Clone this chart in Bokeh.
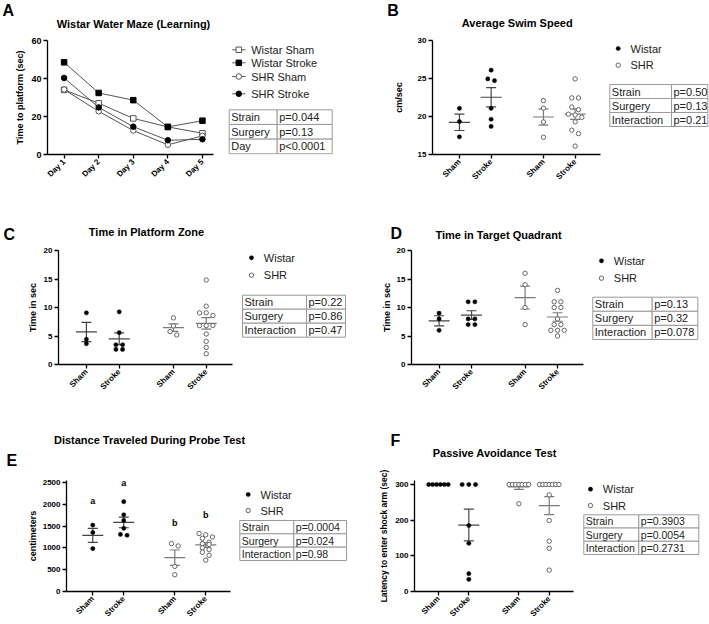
import numpy as np
from bokeh.plotting import figure
from bokeh.models import Range1d, FixedTicker
from bokeh.layouts import row, column
from bokeh.core.properties import value
from bokeh.embed import file_html
from bokeh.resources import INLINE

FONT = "Liberation Sans"

# ---------------- data ----------------
DAYS = [1, 2, 3, 4, 5]
DAY_LABELS = ["Day 1", "Day 2", "Day 3", "Day 4", "Day 5"]
A_WISTAR_SHAM = [34.0, 27.0, 19.0, 14.5, 11.2]
A_WISTAR_STROKE = [48.5, 32.4, 28.6, 14.5, 17.8]
A_SHR_SHAM = [34.2, 22.7, 12.6, 5.1, 9.8]
A_SHR_STROKE = [40.3, 24.8, 14.65, 7.5, 8.0]
A_SERIES_NAMES = ["Wistar Sham", "Wistar Stroke", "SHR Sham", "SHR Stroke"]

GROUP_POS = [1, 2, 3.65, 4.65]
GROUP_LABELS = ["Sham", "Stroke", "Sham", "Stroke"]
GROUP_STRAIN = ["Wistar", "Wistar", "SHR", "SHR"]

B_WISTAR_SHAM = [21.07, 19.33, 17.32]
B_WISTAR_STROKE = [26.1, 24.95, 24.72, 21.07, 19.64, 18.7]
B_SHR_SHAM = [22.09, 21.1, 19.28, 17.27]
B_SHR_STROKE = [24.95, 22.45, 22.45, 21.25, 20.9, 20.3, 20.2, 19.9, 19.3, 18.2, 17.75, 16.1]

C_WISTAR_SHAM = [9.06, 4.41, 3.65]
C_WISTAR_STROKE = [9.24, 5.59, 3.47, 3.47, 2.65, 2.65]
C_SHR_SHAM = [8.18, 6.77, 5.77, 5.18]
C_SHR_STROKE = [14.82, 10.23, 9.06, 9.06, 8.59, 6.83, 6.83, 6.83, 5.36, 4.06, 3.0, 1.89]

D_WISTAR_SHAM = [9, 8, 6]
D_WISTAR_STROKE = [11, 11, 8, 8, 7, 7]
D_SHR_SHAM = [16, 14, 10, 7]
D_SHR_STROKE = [13, 11, 11, 10, 10, 8, 7, 7, 6, 6, 6, 5]

E_WISTAR_SHAM = [1523, 1353, 984]
E_WISTAR_STROKE = [2060, 1760, 1630, 1450, 1310, 1290]
E_SHR_SHAM = [1099, 1045, 576, 384]
E_SHR_STROKE = [1330, 1300, 1250, 1220, 1130, 1100, 1080, 1000, 960, 900, 830, 720]
E_LETTERS = ["a", "a", "b", "b"]
E_LETTER_Y = [2084, 2500, 1576, 1746]

F_WISTAR_SHAM = [300, 300, 300, 300, 300, 300]
F_WISTAR_STROKE = [300, 300, 300, 185, 135, 50, 34]
F_SHR_SHAM = [300, 300, 300, 300, 300, 300, 300, 246]
F_SHR_STROKE = [300, 300, 300, 300, 300, 300, 300, 271, 199, 141, 121, 60]

A_STATS = [("Strain", "p=0.044"), ("Surgery", "p=0.13"), ("Day", "p<0.0001")]
B_STATS = [("Strain", "p=0.50"), ("Surgery", "p=0.13"), ("Interaction", "p=0.21")]
C_STATS = [("Strain", "p=0.22"), ("Surgery", "p=0.86"), ("Interaction", "p=0.47")]
D_STATS = [("Strain", "p=0.13"), ("Surgery", "p=0.32"), ("Interaction", "p=0.078")]
E_STATS = [("Strain", "p=0.0004"), ("Surgery", "p=0.024"), ("Interaction", "p=0.98")]
F_STATS = [("Strain", "p=0.3903"), ("Surgery", "p=0.0054"), ("Interaction", "p=0.2731")]

# ---------------- layout (page pixels, origin at top-left) ----------------
TOTAL_W = 709
ROWS = [
    dict(header=(0, 34), band=(34, 200), frame=(40, 154)),
    dict(header=(200, 244), band=(244, 400), frame=(250, 364)),
    dict(header=(400, 469), band=(469, 624), frame=(480, 591)),
]

PANELS = {
    "A": dict(row=0, fig=(0, 222), frame=(47, 166), xr=(0.52, 5.32), yr=(0, 60),
              yticks=[0, 20, 40, 60], ylabel="Time to platform (sec)", ystand=3, lab_fs="9px",
              letter=(2, 10), title="Wistar Water Maze (Learning)", tpos=(133, 23.3)),
    "B": dict(row=0, fig=(345, 258), frame=(432, 168), xr=(0.15, 5.45), yr=(15, 30),
              yticks=[15, 20, 25, 30], ylabel="cm/sec", ystand=11, lab_fs="9px",
              letter=(386.7, 9.5), title="Average Swim Speed", tpos=(516.7, 22.3)),
    "C": dict(row=1, fig=(0, 236), frame=(58, 174), xr=(0.15, 5.45), yr=(0, 20),
              yticks=[0, 5, 10, 15, 20], ylabel="Time in sec", ystand=3, lab_fs="9px",
              letter=(3, 234), title="Time in Platform Zone", tpos=(146, 231)),
    "D": dict(row=1, fig=(350, 238), frame=(411, 172), xr=(0.15, 5.45), yr=(0, 20),
              yticks=[0, 5, 10, 15, 20], ylabel="Time in sec", ystand=2, lab_fs="9px",
              letter=(390, 232.5), title="Time in Target Quadrant", tpos=(498, 234)),
    "E": dict(row=2, fig=(0, 236), frame=(66, 164), xr=(0.15, 5.45), yr=(0, 2546),
              yticks=[0, 500, 1000, 1500, 2000, 2500], ylabel="centimeters", ystand=2, lab_fs="9px",
              letter=(6, 459.5), title="Distance Traveled During Probe Test", tpos=(149, 439)),
    "F": dict(row=2, fig=(350, 228), frame=(414, 159), xr=(0.21, 5.45), yr=(0, 311.2),
              yticks=[0, 100, 200, 300], ylabel="Latency to enter shock arm (sec)", ystand=3, lab_fs="8.5px",
              letter=(390, 440), title="Passive Avoidance Test", tpos=(494.3, 452.3)),
}

SIDES = {
    "A": dict(row=0, fig=(222, 123), table=(228.7, 276.7, 331.7, 109.3, 153.3), fs="11px"),
    "B": dict(row=0, fig=(603, 106), legend=(617.7, 630, 48, 64.7), table=(609.3, 671, 707.3, 84, 126), fs="11px"),
    "C": dict(row=1, fig=(236, 114), legend=(251, 263.3, 257.3, 274.7), table=(242, 306, 345, 294.7, 336.7), fs="11px"),
    "D": dict(row=1, fig=(588, 121), legend=(601, 613.3, 260.3, 277.7), table=(592.3, 651.7, 697.3, 296.7, 339), fs="11px"),
    "E": dict(row=2, fig=(236, 114), legend=(247.7, 260, 494, 510), table=(239.3, 293.3, 346, 520, 560), fs="10.5px"),
    "F": dict(row=2, fig=(578, 131), legend=(590, 602.3, 488.7, 505), table=(583.3, 638.3, 698.3, 514.3, 554), fs="10.5px"),
}


def base_fig(width, height, xr, yr, borders, axes=True):
    left, right, top, bottom = borders
    kw = dict(width=width, height=height, title=None, x_range=Range1d(*xr), y_range=Range1d(*yr),
              output_backend="svg", toolbar_location=None, tools="",
              min_border_left=left, min_border_right=right, min_border_top=top, min_border_bottom=bottom)
    if not axes:
        kw.update(x_axis_type=None, y_axis_type=None)
    p = figure(**kw)
    p.outline_line_color = None
    p.background_fill_color = "white"
    p.border_fill_color = "white"
    return p


def make_main(g):
    r = ROWS[g["row"]]
    bt, bb = r["band"]
    ft, fb = r["frame"]
    fx, fw = g["fig"]
    L, W = g["frame"]
    p = base_fig(fw, bb - bt, g["xr"], g["yr"], (L - fx, fw - (L - fx) - W, ft - bt, bb - fb))
    p.xgrid.visible = False
    p.ygrid.visible = False
    for ax in list(p.xaxis) + list(p.yaxis):
        ax.axis_line_color = "black"
        ax.axis_line_width = 1.3
        ax.major_tick_line_color = "black"
        ax.major_tick_line_width = 1.3
        ax.major_tick_out = 4
        ax.major_tick_in = 0
        ax.minor_tick_out = 0
        ax.minor_tick_in = 0
        ax.major_label_text_font = FONT
        ax.major_label_text_font_style = "bold"
        ax.major_label_text_font_size = "8px"
        ax.major_label_text_color = "black"
        ax.major_label_standoff = 2
        ax.axis_label_text_font = FONT
        ax.axis_label_text_font_style = "bold"
        ax.axis_label_text_font_size = g["lab_fs"]
        ax.axis_label_text_color = "black"
    p.yaxis.axis_label = g["ylabel"]
    p.yaxis.axis_label_standoff = g["ystand"]
    p.yaxis.ticker = FixedTicker(ticks=g["yticks"])
    p.xaxis.major_label_orientation = np.pi / 4
    return p


def make_side(s):
    r = ROWS[s["row"]]
    bt, bb = r["band"]
    ft, fb = r["frame"]
    fx, fw = s["fig"]
    return base_fig(fw, bb - bt, (fx, fx + fw), (fb, ft), (0, 0, ft - bt, bb - fb), axes=False)


def make_header(r):
    ht, hb = r["header"]
    return base_fig(TOTAL_W, hb - ht, (0, TOTAL_W), (hb, ht), (0, 0, 0, 0), axes=False)


def spread(vals, ypx, xpx, thr=4.0, step=6.7, maxw=19.5):
    order = np.argsort(-vals, kind="stable")
    groups = []
    for i in order:
        if groups and (vals[groups[-1][0]] - vals[i]) * ypx < thr:
            groups[-1].append(i)
        else:
            groups.append([i])
    off = np.zeros(len(vals))
    for grp in groups:
        k = len(grp)
        if k > 1:
            s = min(step, maxw / (k - 1))
            for j, i in enumerate(grp):
                off[i] = (j - (k - 1) / 2) * s / xpx
    return off


def draw_groups(p, g, group_vals):
    r = ROWS[g["row"]]
    ft, fb = r["frame"]
    L, W = g["frame"]
    x0, x1 = g["xr"]
    y0, y1 = g["yr"]
    xpx = W / (x1 - x0)
    ypx = (fb - ft) / (y1 - y0)
    hw = 10.5 / xpx
    cw = 5.0 / xpx
    for pos, vals, strain in zip(GROUP_POS, group_vals, GROUP_STRAIN):
        v = np.asarray(vals, float)
        m = v.mean()
        se = v.std(ddof=1) / np.sqrt(len(v))
        col = "#444444" if strain == "Wistar" else "#7a7a7a"
        p.segment(x0=[pos - hw, pos, pos - cw, pos - cw], y0=[m, m - se, m + se, m - se],
                  x1=[pos + hw, pos, pos + cw, pos + cw], y1=[m, m + se, m + se, m - se],
                  line_color=col, line_width=1.2)
        xs = pos + spread(v, ypx, xpx)
        if strain == "Wistar":
            p.scatter(xs, v, marker="circle", size=4.2, fill_color="black", line_color="black", line_width=0.5)
        else:
            p.scatter(xs, v, marker="circle", size=4.4, fill_color="white", line_color="#666666", line_width=1)
    p.xaxis.ticker = FixedTicker(ticks=GROUP_POS)
    p.xaxis.major_label_overrides = {pos: lab for pos, lab in zip(GROUP_POS, GROUP_LABELS)}


def draw_table(p, s, rows):
    x0, xd, x1, y0, y1 = s["table"]
    n = len(rows)
    rh = (y1 - y0) / n
    L, R, Tp, Bt = [], [], [], []
    for i in range(n):
        for a, b in ((x0, xd), (xd, x1)):
            L.append(a); R.append(b); Tp.append(y0 + i * rh); Bt.append(y0 + (i + 1) * rh)
    p.quad(left=L, right=R, top=Tp, bottom=Bt, fill_color="white", line_color="#9a9a9a", line_width=1)
    tx, ty, tt = [], [], []
    for i, (k, v) in enumerate(rows):
        yc = y0 + (i + 0.5) * rh
        tx += [x0 + 2, xd + 2]
        ty += [yc, yc]
        tt += [k, v]
    p.text(x=tx, y=ty, text=tt, text_font=value(FONT), text_font_size=value(s["fs"]),
           text_baseline="middle", text_align="left", text_color="#222222")


def draw_strain_legend(p, s):
    mx, tx, ya, yb = s["legend"]
    p.scatter([mx], [ya], marker="circle", size=4.2, fill_color="black", line_color="black", line_width=0.5)
    p.scatter([mx], [yb], marker="circle", size=4.4, fill_color="white", line_color="#666666", line_width=1)
    p.text(x=[tx, tx], y=[ya, yb], text=["Wistar", "SHR"], text_font=value(FONT),
           text_font_size=value("11px"), text_baseline="middle", text_align="left", text_color="#222222")


# ---------------- Panel A ----------------
gA = PANELS["A"]
pA = make_main(gA)
a_styles = [
    (A_WISTAR_SHAM, "square", "white", "#555555"),
    (A_WISTAR_STROKE, "square", "black", "black"),
    (A_SHR_SHAM, "circle", "white", "#555555"),
    (A_SHR_STROKE, "circle", "black", "black"),
]
for vals, mk, fc, lc in a_styles:
    pA.line(DAYS, vals, line_color="#555555", line_width=1)
for vals, mk, fc, lc in a_styles:
    pA.scatter(DAYS, vals, marker=mk, size=5.5, fill_color=fc, line_color=lc, line_width=1)
pA.xaxis.ticker = FixedTicker(ticks=DAYS)
pA.xaxis.major_label_overrides = {d: lab for d, lab in zip(DAYS, DAY_LABELS)}
pA.yaxis.major_label_text_font_size = "9px"

sA = make_side(SIDES["A"])
leg_y = [49.3, 62.3, 76, 93.3]
sA.segment(x0=[231.7] * 4, x1=[245] * 4, y0=leg_y, y1=leg_y, line_color="#555555", line_width=1)
for (vals, mk, fc, lc), y in zip(a_styles, leg_y):
    sA.scatter([238.3], [y], marker=mk, size=5.5, fill_color=fc, line_color=lc, line_width=1)
sA.text(x=[250.7] * 4, y=leg_y, text=A_SERIES_NAMES, text_font=value(FONT), text_font_size=value("11px"),
        text_baseline="middle", text_align="left", text_color="#222222")
draw_table(sA, SIDES["A"], A_STATS)

# ---------------- Panels B-F ----------------
panel_data = {
    "B": ([B_WISTAR_SHAM, B_WISTAR_STROKE, B_SHR_SHAM, B_SHR_STROKE], B_STATS),
    "C": ([C_WISTAR_SHAM, C_WISTAR_STROKE, C_SHR_SHAM, C_SHR_STROKE], C_STATS),
    "D": ([D_WISTAR_SHAM, D_WISTAR_STROKE, D_SHR_SHAM, D_SHR_STROKE], D_STATS),
    "E": ([E_WISTAR_SHAM, E_WISTAR_STROKE, E_SHR_SHAM, E_SHR_STROKE], E_STATS),
    "F": ([F_WISTAR_SHAM, F_WISTAR_STROKE, F_SHR_SHAM, F_SHR_STROKE], F_STATS),
}
mains = {"A": pA}
sides = {"A": sA}
for key, (groups, stats) in panel_data.items():
    g = PANELS[key]
    p = make_main(g)
    draw_groups(p, g, groups)
    mains[key] = p
    s = make_side(SIDES[key])
    draw_strain_legend(s, SIDES[key])
    draw_table(s, SIDES[key], stats)
    sides[key] = s

mains["E"].text(x=GROUP_POS, y=E_LETTER_Y, text=E_LETTERS, text_font=value(FONT),
                text_font_style="bold", text_font_size=value("9px"), text_color="black",
                text_align="center", text_baseline="middle")

# ---------------- header bands: panel letters and titles ----------------
headers = []
for ri, r in enumerate(ROWS):
    h = make_header(r)
    keys = [k for k, g in PANELS.items() if g["row"] == ri]
    h.text(x=[PANELS[k]["letter"][0] for k in keys], y=[PANELS[k]["letter"][1] for k in keys], text=keys,
           text_font=value(FONT), text_font_style="bold", text_font_size=value("16px"),
           text_color="black", text_align="left", text_baseline="middle")
    h.text(x=[PANELS[k]["tpos"][0] for k in keys], y=[PANELS[k]["tpos"][1] for k in keys],
           text=[PANELS[k]["title"] for k in keys],
           text_font=value(FONT), text_font_style="bold", text_font_size=value("11px"),
           text_color="black", text_align="center", text_baseline="middle")
    headers.append(h)

layout = column(
    headers[0],
    row(mains["A"], sides["A"], mains["B"], sides["B"]),
    headers[1],
    row(mains["C"], sides["C"], mains["D"], sides["D"]),
    headers[2],
    row(mains["E"], sides["E"], mains["F"], sides["F"]),
)

open("out.html", "w").write(file_html(layout, INLINE))
